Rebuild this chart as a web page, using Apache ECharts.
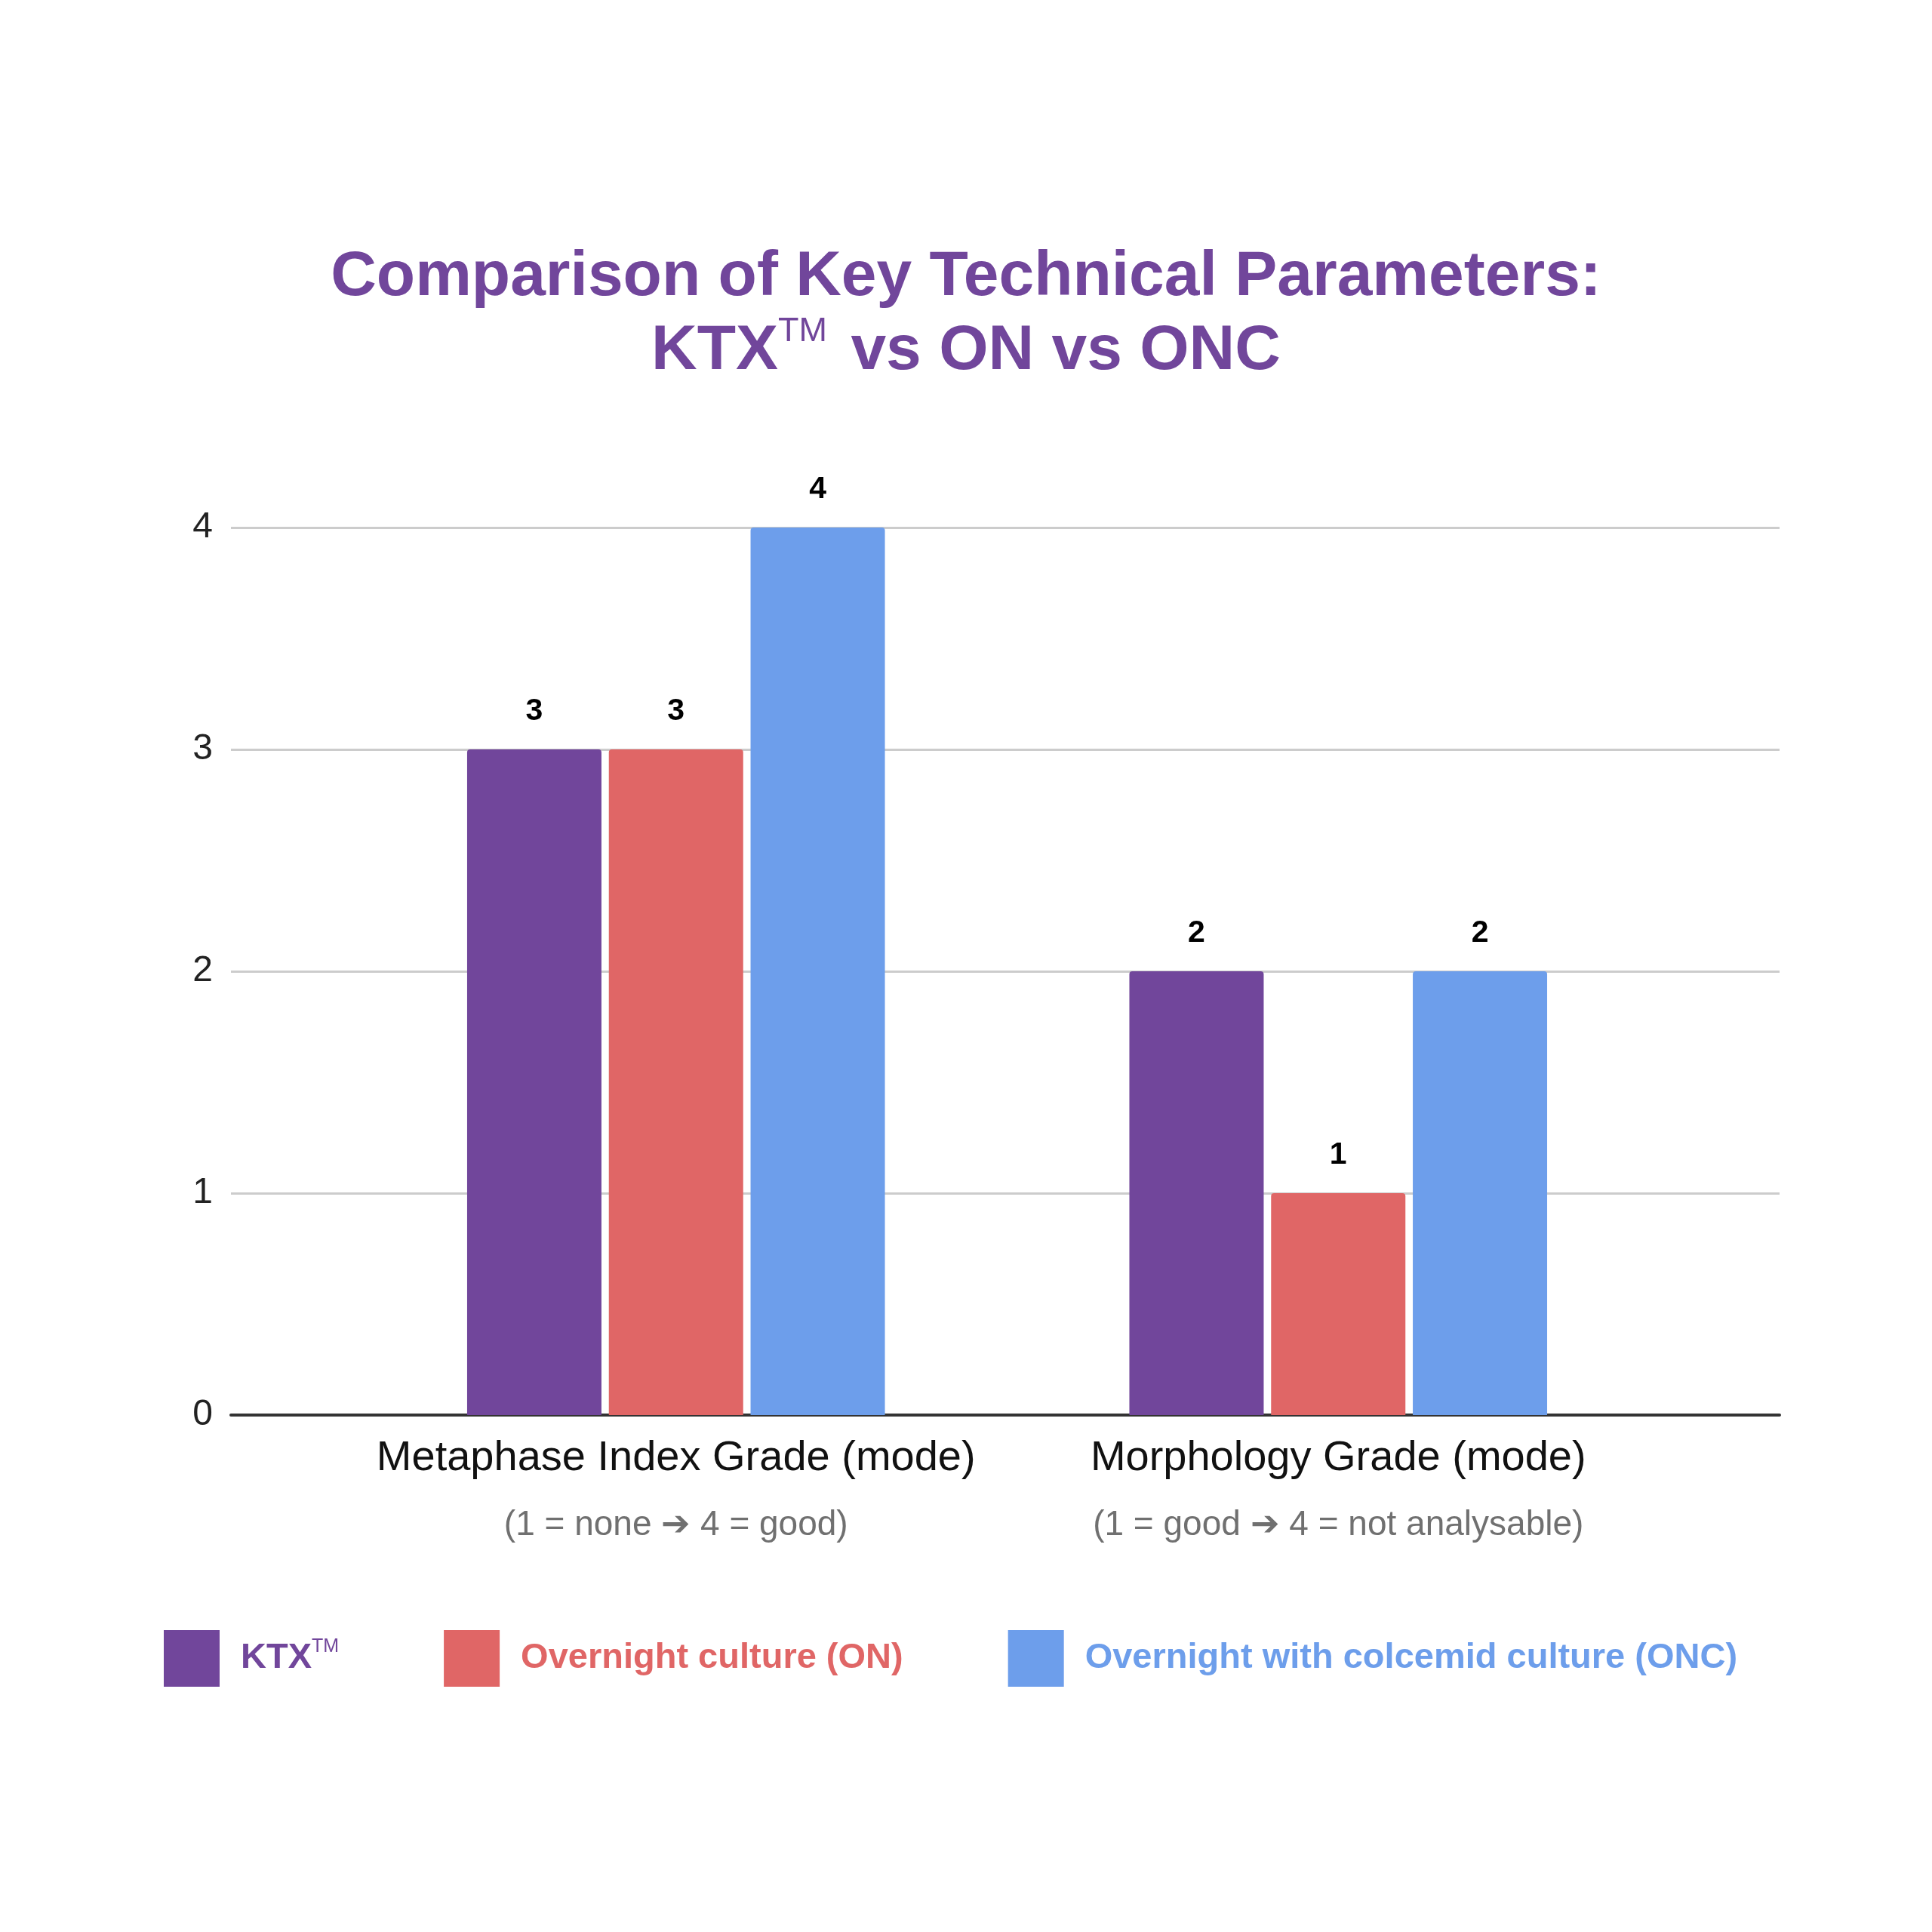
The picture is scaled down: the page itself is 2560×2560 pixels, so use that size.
<!DOCTYPE html>
<html lang="en">
<head>
  <meta charset="UTF-8">
  <title>Comparison of Key Technical Parameters</title>
  <script src="https://cdn.jsdelivr.net/npm/echarts@6/dist/echarts.min.js"></script>
  <style>
    html, body { margin: 0; padding: 0; background: #ffffff; }
    #chart { width: 2560px; height: 2560px; }
  </style>
</head>
<body>
  <div id="chart"></div>

<script>
  // categories and the grading scale shown under each one
  const categories = ['Metaphase Index Grade (mode)', 'Morphology Grade (mode)'];
  const scaleNotes = ['(1 = none \u2794 4 = good)', '(1 = good \u2794 4 = not analysable)'];

  // series
  const seriesNames = ['KTX', 'Overnight culture (ON)', 'Overnight with colcemid culture (ONC)'];
  const ktxValues = [3, 2];
  const onValues = [3, 1];
  const oncValues = [4, 2];

  // y axis
  const yMin = 0;
  const yMax = 4;
  const yStep = 1;

  const purple = '#71469b';
  const red = '#e06666';
  const blue = '#6d9eeb';
  const colors = [purple, red, blue];
  const font = 'Liberation Sans, Arial, Helvetica, sans-serif';

  function loadChart() {
    const chart = echarts.init(document.getElementById('chart'));

    const valueSets = [ktxValues, onValues, oncValues];
    const series = seriesNames.map((name, i) => ({
      name: name,
      type: 'bar',
      xAxisIndex: 1,
      yAxisIndex: 1,
      data: valueSets[i],
      barWidth: 178,
      barGap: '5.5%',
      itemStyle: { color: colors[i], borderRadius: [4, 4, 0, 0] },
      label: {
        show: true,
        position: 'top',
        distance: 30,
        fontFamily: font,
        fontSize: 41,
        fontWeight: 'bold',
        color: '#000'
      }
    }));

    const option = {
      backgroundColor: '#ffffff',
      animation: false,
      textStyle: { fontFamily: font },
      title: {
        // left: 'center' without textAlign lets ECharts centre every line
        text: '{a|Comparison of Key Technical Parameters:}\n{a|KTX}{sup|TM}{a| vs ON vs ONC}',
        left: 'center',
        top: 314,
        textStyle: {
          fontFamily: font,
          rich: {
            a: { fontFamily: font, fontSize: 84, fontWeight: 'bold', color: purple, lineHeight: 98 },
            sup: { fontFamily: font, fontSize: 45, fontWeight: 'normal', color: purple, lineHeight: 69, verticalAlign: 'top', padding: [0, 8, 0, 0] }
          }
        }
      },
      legend: {
        left: 212,
        top: 2155,
        icon: 'rect',
        itemWidth: 74,
        itemHeight: 75,
        itemGap: 139,
        data: seriesNames.map((name, i) => ({ name: name, textStyle: { color: colors[i] } })),
        formatter: name => name === 'KTX' ? '{k|KTX}{sup|TM}' : name,
        textStyle: {
          fontFamily: font,
          fontSize: 47,
          fontWeight: 'bold',
          padding: [0, 0, 0, 23],
          rich: {
            k: { fontFamily: font, fontSize: 47, fontWeight: 'bold', color: purple, lineHeight: 56 },
            sup: { fontFamily: font, fontSize: 25, fontWeight: 'normal', color: purple, lineHeight: 46, verticalAlign: 'top' }
          }
        }
      },
      grid: [
        // full width: gridlines, y labels, base line
        { left: 306, right: 202, top: 699, bottom: 685 },
        // narrower: bars and category labels
        { left: 457, right: 348, top: 699, bottom: 685 }
      ],
      xAxis: [
        {
          type: 'category',
          gridIndex: 0,
          data: categories,
          axisLabel: { show: false },
          axisTick: { show: false },
          axisLine: { show: true, lineStyle: { color: '#333333', width: 4 } }
        },
        {
          type: 'category',
          gridIndex: 1,
          data: categories,
          axisTick: { show: false },
          axisLine: { show: false },
          axisLabel: {
            margin: 13,
            formatter: (v, i) => '{main|' + v + '}\n{sub|' + scaleNotes[i] + '}',
            rich: {
              main: { fontFamily: font, fontSize: 56, color: '#111111', lineHeight: 90 },
              sub: { fontFamily: font, fontSize: 46, color: '#707070', lineHeight: 86 }
            }
          }
        }
      ],
      yAxis: [
        {
          type: 'value',
          gridIndex: 0,
          min: yMin,
          max: yMax,
          interval: yStep,
          axisLine: { show: false },
          axisTick: { show: false },
          axisLabel: { fontFamily: font, fontSize: 48, color: '#222222', margin: 24 },
          splitLine: { show: true, lineStyle: { color: '#cccccc', width: 3 } }
        },
        {
          type: 'value',
          gridIndex: 1,
          min: yMin,
          max: yMax,
          interval: yStep,
          axisLine: { show: false },
          axisTick: { show: false },
          axisLabel: { show: false },
          splitLine: { show: false }
        }
      ],
      series: series
    };

    chart.setOption(option);
  }

  loadChart();
</script>
</body>
</html>
